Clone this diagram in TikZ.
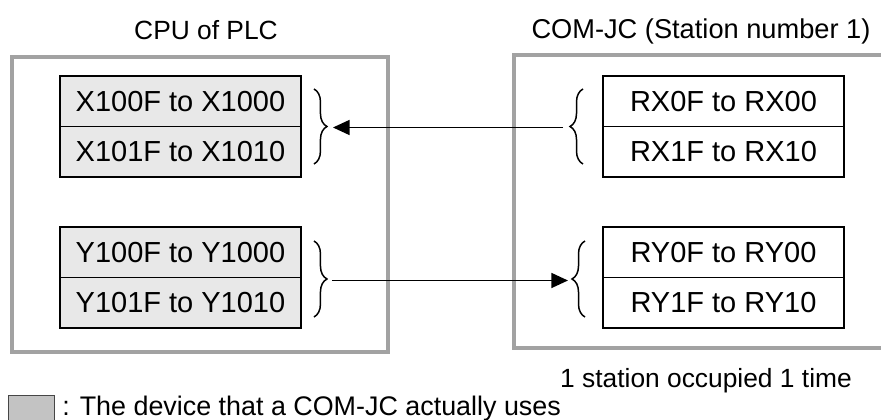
\documentclass[tikz,border=0pt]{standalone}
\usepackage{fontspec}
\setmainfont{Liberation Sans}
\usepackage{tikz}
\usetikzlibrary{arrows.meta, positioning, decorations.pathreplacing, calc}
\definecolor{cadre}{RGB}{162,162,162}
\definecolor{fond}{RGB}{232,232,232}
\definecolor{legende}{RGB}{195,195,195}
\definecolor{bordleg}{RGB}{70,70,70}

\tikzset{
	cellule/.style={draw, line width=1.1pt, inner sep=0pt, outer sep=0pt,
		minimum width=4.82cm, minimum height=1.01cm, font=\fontsize{16.5}{18}\selectfont},
	titre/.style={inner sep=0pt, font=\fontsize{15}{17}\selectfont},
	accolade/.style={decorate, decoration={brace, amplitude=7.4pt}, line width=0.85pt},
	fleche/.style={-{Triangle[length=9.5pt,width=8.5pt]}, line width=1.1pt}
}

\begin{document}
\begin{tikzpicture}[x=0.02cm, y=-0.02cm]
	\clip (0,0) rectangle (881,419);
	% Cadres
	\draw[cadre, line width=2.2pt] (12,57) rectangle (388,352);
	\draw[cadre, line width=2.2pt] (514,55) rectangle (900,348);
	\node[titre, anchor=base] (tcpu) at (206,39) {CPU of PLC};
	\node[titre, anchor=base, font=\fontsize{15.5}{17}\selectfont] (tcom) at (701,38) {COM-JC (Station number 1)};
	% Registres du PLC
	\node[cellule, fill=fond, anchor=north west] (xa) at (60,76) {X100F to X1000};
	\node[cellule, fill=fond, below=0pt of xa] (xb) {X101F to X1010};
	\node[cellule, fill=fond, anchor=north west] (ya) at (60,227) {Y100F to Y1000};
	\node[cellule, fill=fond, below=0pt of ya] (yb) {Y101F to Y1010};
	% Registres du COM-JC
	\node[cellule, anchor=north west] (rxa) at (603,76) {RX0F to RX00};
	\node[cellule, below=0pt of rxa] (rxb) {RX1F to RX10};
	\node[cellule, anchor=north west] (rya) at (603,227) {RY0F to RY00};
	\node[cellule, below=0pt of rya] (ryb) {RY1F to RY10};
	% Accolades
	\draw[accolade] ($(xa.north east)+(13,13)$) -- ($(xb.south east)+(13,-13)$);
	\draw[accolade] ($(ya.north east)+(13,14)$) -- ($(yb.south east)+(13,-11)$);
	\draw[accolade] ($(rxb.south west)+(-20,-13)$) -- ($(rxa.north west)+(-20,13)$);
	\draw[accolade] ($(ryb.south west)+(-18,-11)$) -- ($(rya.north west)+(-18,14)$);
	% Liaisons
	\coordinate (xin) at ($(xa.south east)+(32,1)$);
	\coordinate (rxout) at ($(rxa.south west)+(-40,1)$);
	\coordinate (yout) at ($(ya.south east)+(31,3)$);
	\coordinate (ryin) at ($(rya.south west)+(-35,3)$);
	\draw[fleche] (rxout) -- (xin);
	\draw[fleche] (yout) -- (ryin);
	\node[titre, anchor=base] (occ) at (706,387) {1 station occupied 1 time};
	% Legende
	\node[draw=bordleg, line width=0.7pt, fill=legende, minimum width=0.92cm,
		minimum height=0.7cm, anchor=north west, inner sep=0pt] (leg) at (8,395) {};
	\node[titre, anchor=base west, font=\fontsize{15.3}{17}\selectfont] (tleg) at (62,415) {: The device that a COM-JC actually uses};
\end{tikzpicture}
\end{document}
